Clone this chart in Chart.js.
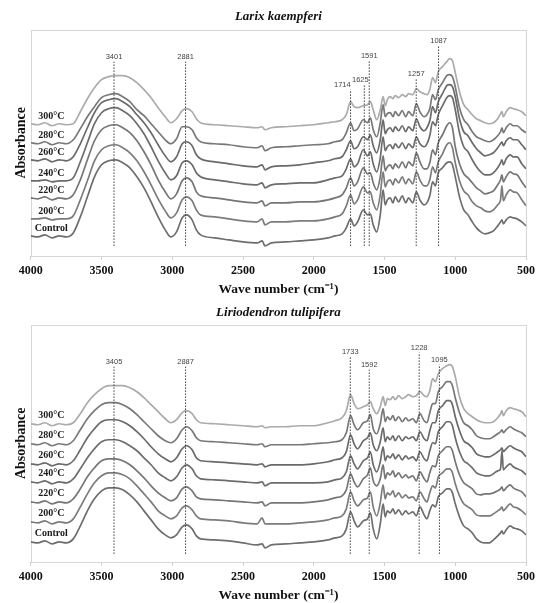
<!DOCTYPE html>
<html>
<head>
<meta charset="utf-8">
<script src="https://cdn.jsdelivr.net/npm/chart.js@4.4.1/dist/chart.umd.min.js"></script>
<style>
  body { margin: 0; background: #fff; width: 539px; height: 603px; overflow: hidden; }
  .panel { position: relative; width: 539px; }
</style>
</head>
<body>
<div class="panel" style="height:300px"><canvas id="larixChart"></canvas></div>
<div class="panel" style="height:303px"><canvas id="lirioChart"></canvas></div>
<script>
// Wave numbers (cm-1) shared by every spectrum
const wavenumbers = [
  4000, 3950, 3900, 3850, 3800, 3750, 3700, 3650, 3600, 3550,
  3500, 3450, 3400, 3350, 3300, 3250, 3200, 3150, 3100, 3050,
  3010, 2970, 2930, 2900, 2860, 2830, 2800, 2700, 2600, 2500,
  2400, 2365, 2345, 2300, 2200, 2100, 2000, 1900, 1850, 1800,
  1770, 1740, 1715, 1690, 1650, 1620, 1600, 1580, 1555, 1530,
  1510, 1495, 1480, 1460, 1440, 1425, 1400, 1375, 1350, 1330,
  1300, 1275, 1250, 1220, 1200, 1180, 1160, 1140, 1120, 1090,
  1060, 1040, 1020, 1000, 970, 940, 910, 880, 850, 820,
  790, 760, 730, 700, 680, 670, 660, 640, 612, 590,
  563, 530, 500
];

const tempLabels = ['Control', '200°C', '220°C', '240°C', '260°C', '280°C', '300°C'];

// Larix kaempferi spectra (absorbance, arbitrary units, stacked)
const larixControl = [
  20, 19, 21, 18, 20, 19, 23, 39, 59, 79,
  91, 95, 96, 93, 88, 79, 68, 54, 39, 26,
  19, 24, 38, 41, 36, 26, 21, 18, 16, 14,
  13, 15, 10, 13, 14, 15, 16, 18, 20, 22,
  28, 37, 30, 34, 46, 41, 42, 31, 24, 41,
  66, 51, 56, 58, 53, 59, 54, 60, 53, 58,
  53, 64, 56, 51, 53, 60, 74, 70, 83, 88,
  93, 94, 91, 79, 59, 46, 41, 34, 28, 24,
  22, 23, 25, 30, 34, 36, 32, 36, 39, 38,
  37, 34, 30
];
const larix200 = [
  37, 37, 38, 36, 37, 37, 40, 56, 75, 95,
  106, 110, 111, 108, 103, 95, 84, 71, 57, 45,
  38, 43, 56, 59, 55, 46, 41, 39, 37, 35,
  34, 37, 31, 34, 34, 35, 35, 37, 39, 42,
  50, 61, 52, 56, 69, 63, 64, 53, 46, 61,
  84, 69, 74, 76, 71, 77, 73, 79, 72, 77,
  72, 84, 76, 70, 70, 76, 89, 83, 94, 102,
  111, 113, 108, 93, 75, 65, 61, 54, 50, 48,
  45, 44, 46, 51, 56, 70, 55, 61, 66, 64,
  63, 56, 50
];
const larix220 = [
  58, 57, 59, 56, 58, 57, 61, 76, 96, 115,
  126, 130, 131, 128, 123, 115, 104, 91, 76, 64,
  57, 62, 75, 78, 74, 64, 60, 58, 56, 54,
  53, 55, 50, 53, 53, 54, 54, 56, 58, 61,
  68, 78, 70, 74, 88, 82, 83, 73, 66, 79,
  100, 85, 89, 91, 87, 92, 88, 94, 88, 94,
  90, 103, 94, 87, 87, 93, 106, 101, 113, 121,
  130, 133, 128, 109, 92, 82, 78, 73, 68, 65,
  62, 63, 65, 71, 76, 81, 74, 79, 84, 82,
  81, 74, 68
];
const larix240 = [
  75, 75, 76, 74, 75, 75, 78, 94, 113, 132,
  143, 147, 148, 145, 140, 132, 122, 109, 95, 83,
  76, 80, 93, 95, 91, 83, 79, 76, 74, 72,
  71, 73, 68, 71, 72, 73, 73, 76, 78, 80,
  87, 97, 89, 92, 106, 100, 104, 92, 84, 98,
  119, 105, 109, 111, 107, 112, 108, 113, 107, 112,
  108, 119, 112, 109, 112, 120, 134, 130, 141, 150,
  158, 160, 158, 146, 123, 109, 104, 96, 89, 84,
  81, 81, 83, 88, 93, 96, 91, 97, 101, 99,
  99, 92, 87
];
const larix260 = [
  96, 95, 97, 94, 96, 95, 99, 112, 128, 143,
  153, 156, 157, 154, 149, 141, 133, 123, 111, 100,
  94, 99, 112, 114, 110, 101, 97, 94, 92, 90,
  89, 91, 86, 89, 90, 91, 93, 95, 97, 99,
  106, 115, 107, 109, 119, 116, 121, 110, 103, 116,
  136, 122, 126, 128, 124, 129, 125, 130, 124, 129,
  125, 137, 129, 125, 128, 135, 149, 143, 154, 162,
  170, 171, 169, 159, 137, 124, 120, 113, 107, 103,
  100, 101, 103, 108, 112, 114, 110, 115, 118, 116,
  116, 111, 106
];
const larix280 = [
  113, 112, 114, 111, 113, 112, 116, 127, 139, 149,
  158, 161, 162, 159, 154, 146, 140, 132, 124, 116,
  112, 117, 129, 129, 126, 118, 114, 112, 111, 109,
  108, 110, 105, 108, 109, 110, 111, 112, 114, 116,
  123, 133, 125, 127, 136, 133, 138, 126, 119, 133,
  151, 139, 142, 143, 139, 144, 140, 145, 139, 144,
  140, 152, 144, 139, 141, 147, 161, 156, 166, 173,
  180, 181, 179, 169, 148, 136, 131, 124, 119, 117,
  115, 114, 116, 120, 124, 128, 123, 128, 132, 130,
  130, 126, 123
];
const larix300 = [
  132, 131, 133, 130, 132, 131, 132, 144, 157, 168,
  176, 179, 180, 180, 178, 173, 166, 158, 148, 139,
  133, 137, 145, 147, 144, 137, 133, 131, 130, 129,
  128, 129, 126, 128, 129, 130, 131, 133, 134, 136,
  141, 154, 149, 148, 150, 151, 154, 146, 136, 146,
  159, 150, 156, 159, 157, 160, 158, 161, 159, 162,
  161, 167, 164, 162, 161, 166, 178, 173, 184, 189,
  194, 197, 195, 183, 164, 151, 146, 141, 137, 135,
  133, 132, 133, 137, 142, 144, 139, 144, 148, 147,
  146, 144, 140
];

// Liriodendron tulipifera spectra
const lirioControl = [
  20, 19, 21, 18, 20, 19, 23, 36, 51, 63,
  71, 74, 74, 72, 67, 60, 51, 42, 33, 27,
  24, 27, 35, 37, 33, 26, 23, 22, 21, 19,
  17, 18, 14, 17, 18, 19, 20, 22, 24, 26,
  33, 50, 41, 35, 41, 43, 49, 33, 23, 38,
  58, 45, 51, 49, 53, 48, 52, 47, 51, 48,
  50, 46, 55, 47, 43, 51, 57, 55, 65, 69,
  73, 73, 69, 58, 45, 36, 33, 29, 23, 20,
  19, 19, 22, 26, 29, 31, 28, 32, 36, 34,
  33, 31, 27
];
const lirio200 = [
  40, 39, 41, 38, 40, 39, 43, 55, 68, 79,
  86, 89, 89, 87, 83, 76, 68, 60, 51, 46,
  43, 46, 54, 56, 52, 46, 43, 42, 41, 39,
  38, 44, 38, 38, 38, 39, 40, 42, 44, 46,
  53, 70, 61, 56, 62, 64, 70, 55, 46, 59,
  77, 63, 69, 67, 71, 65, 69, 64, 67, 64,
  65, 61, 70, 63, 60, 69, 76, 74, 85, 89,
  93, 93, 89, 78, 66, 58, 55, 52, 47, 46,
  46, 46, 48, 51, 53, 55, 51, 54, 58, 55,
  54, 51, 47
];
const lirio220 = [
  60, 59, 61, 58, 60, 59, 63, 73, 85, 94,
  101, 103, 103, 101, 97, 91, 84, 76, 69, 64,
  61, 64, 73, 75, 71, 65, 63, 62, 61, 60,
  59, 60, 56, 59, 59, 59, 60, 62, 64, 66,
  72, 88, 80, 75, 83, 87, 94, 81, 76, 83,
  97, 83, 89, 87, 91, 85, 89, 84, 87, 84,
  86, 81, 90, 83, 80, 89, 96, 95, 106, 111,
  115, 115, 111, 100, 87, 79, 76, 73, 68, 67,
  68, 68, 69, 71, 73, 75, 71, 74, 77, 74,
  72, 70, 65
];
const lirio240 = [
  80, 79, 81, 78, 80, 79, 83, 93, 104, 113,
  120, 122, 122, 120, 116, 111, 104, 97, 89, 84,
  81, 85, 94, 97, 93, 86, 83, 82, 81, 80,
  79, 80, 76, 79, 79, 79, 79, 80, 82, 84,
  90, 106, 98, 93, 101, 104, 110, 97, 90, 100,
  115, 101, 106, 104, 108, 103, 107, 102, 106, 103,
  105, 101, 110, 103, 101, 111, 119, 118, 130, 135,
  140, 140, 136, 124, 110, 101, 98, 94, 89, 87,
  86, 86, 88, 91, 93, 111, 92, 95, 98, 95,
  93, 91, 87
];
const lirio260 = [
  98, 97, 99, 96, 98, 97, 101, 112, 124, 133,
  140, 142, 142, 140, 136, 130, 123, 115, 108, 103,
  100, 104, 113, 116, 112, 104, 101, 100, 99, 98,
  97, 98, 95, 97, 97, 97, 98, 100, 102, 104,
  110, 127, 118, 113, 121, 124, 129, 117, 111, 120,
  134, 120, 125, 122, 126, 121, 126, 121, 125, 123,
  125, 121, 130, 123, 121, 131, 139, 139, 151, 156,
  161, 161, 157, 145, 131, 121, 118, 114, 108, 106,
  105, 105, 107, 110, 112, 114, 110, 113, 116, 114,
  112, 110, 105
];
const lirio280 = [
  118, 117, 119, 116, 118, 117, 121, 132, 143, 151,
  157, 159, 159, 157, 153, 147, 140, 133, 126, 121,
  119, 123, 132, 135, 131, 124, 121, 120, 119, 118,
  117, 118, 115, 117, 117, 117, 118, 119, 120, 122,
  129, 146, 137, 132, 139, 141, 147, 133, 128, 138,
  153, 140, 145, 142, 146, 141, 145, 140, 144, 141,
  143, 139, 148, 141, 139, 149, 158, 158, 170, 175,
  180, 180, 176, 164, 149, 139, 136, 132, 126, 124,
  123, 123, 125, 128, 130, 132, 129, 132, 135, 133,
  131, 129, 125
];
const lirio300 = [
  138, 137, 139, 136, 138, 137, 139, 148, 159, 167,
  173, 176, 176, 176, 174, 170, 164, 157, 150, 143,
  139, 142, 149, 151, 148, 142, 139, 138, 137, 136,
  135, 136, 134, 135, 135, 136, 136, 139, 141, 144,
  151, 167, 158, 153, 155, 157, 160, 153, 148, 155,
  165, 156, 163, 162, 165, 162, 166, 163, 165, 167,
  165, 166, 170, 166, 165, 171, 183, 180, 188, 193,
  196, 197, 195, 185, 165, 153, 148, 145, 142, 140,
  139, 139, 140, 144, 148, 151, 146, 151, 154, 153,
  152, 150, 145
];

// Marked bands: label, where the dotted line stands, its top and bottom
const larixPeakLabels = ['3401', '2881', '1714', '1625', '1591', '1257', '1087'];
const larixPeakAt = [3412, 2906, 1740, 1643, 1608, 1276, 1118];
const larixPeakTop = [194, 194, 166, 171, 195, 177, 210];
const larixLabelAt = [3412, 2906, 1798, 1671, 1608, 1276, 1118];
const larixPeakBase = 10;

const lirioPeakLabels = ['3405', '2887', '1733', '1592', '1228', '1095'];
const lirioPeakAt = [3412, 2906, 1742, 1608, 1255, 1112];
const lirioPeakTop = [195, 195, 205, 192, 209, 197];
const lirioLabelAt = [3412, 2906, 1742, 1608, 1255, 1112];
const lirioPeakBase = 8;

const curveColors = ['#6e6e6e', '#7c7c7c', '#767676', '#6c6c6c', '#6a6a6a', '#787878', '#ababab'];
const serif = '"Liberation Serif", "Times New Roman", serif';

const toPoints = (ys) => wavenumbers.map((w, i) => ({ x: w, y: ys[i] }));

/**
 * Light frame round the plot area
 */
const plotFrame = {
  id: 'plotFrame',
  beforeDatasetsDraw(chart) {
    const { ctx, chartArea: a } = chart;
    ctx.save();
    ctx.strokeStyle = '#d6d6d6';
    ctx.lineWidth = 1;
    ctx.strokeRect(Math.round(a.left) + 0.5, Math.round(a.top) + 0.5, Math.round(a.width), Math.round(a.height));
    ctx.restore();
  }
};

/**
 * Temperature names written just above the start of each curve
 */
const tempText = {
  id: 'tempText',
  afterDatasetsDraw(chart, args, opts) {
    const { ctx, scales: { x, y } } = chart;
    ctx.save();
    ctx.font = `bold 10px ${serif}`;
    ctx.fillStyle = '#1a1a1a';
    ctx.textAlign = 'center';
    ctx.textBaseline = 'middle';
    chart.data.datasets.forEach(ds => {
      if (!ds.tempLabel) return;
      ctx.fillText(ds.tempLabel, x.getPixelForValue(opts.anchor), y.getPixelForValue(ds.data[0].y) - opts.lift);
    });
    ctx.restore();
  }
};

/**
 * Wave number written on top of each dotted line
 */
const peakText = {
  id: 'peakText',
  afterDatasetsDraw(chart, args, opts) {
    const { ctx, scales: { x, y } } = chart;
    ctx.save();
    ctx.font = '7.5px "Liberation Sans", Arial, sans-serif';
    ctx.fillStyle = '#444';
    ctx.textAlign = 'center';
    ctx.textBaseline = 'bottom';
    opts.labels.forEach((txt, i) => {
      ctx.fillText(txt, x.getPixelForValue(opts.at[i]), y.getPixelForValue(opts.tops[i]) - 1);
    });
    ctx.restore();
  }
};

const buildChart = (canvasId, cfg) => {
  const ctx = document.getElementById(canvasId).getContext('2d');

  const curves = cfg.series.map((ys, i) => ({
    tempLabel: tempLabels[i],
    data: toPoints(ys),
    borderColor: curveColors[i],
    borderWidth: 1.7,
    pointRadius: 0,
    cubicInterpolationMode: 'monotone',
    tension: 0.4
  }));

  const marks = cfg.peakAt.map((w, i) => ({
    data: [{ x: w, y: cfg.peakBase }, { x: w, y: cfg.peakTop[i] }],
    borderColor: '#3c3c3c',
    borderWidth: 1,
    borderDash: [1.5, 1.5],
    pointRadius: 0,
    tension: 0
  }));

  return new Chart(ctx, {
    type: 'line',
    data: { datasets: [...marks, ...curves] },
    options: {
      responsive: true,
      maintainAspectRatio: false,
      animation: false,
      events: [],
      layout: { padding: { left: 8, right: 13, top: 0, bottom: cfg.padBottom } },
      plugins: {
        legend: { display: false },
        tooltip: { enabled: false },
        title: {
          display: true,
          text: cfg.title,
          fullSize: false,
          color: '#111',
          font: { family: serif, size: 13, weight: 'bold', style: 'italic', lineHeight: 1.2 },
          padding: cfg.titlePadding
        },
        tempText: { anchor: 3855, lift: cfg.labelLift },
        peakText: { labels: cfg.peakLabels, at: cfg.labelAt, tops: cfg.peakTop }
      },
      scales: {
        x: {
          type: 'linear',
          reverse: true,
          min: 500,
          max: 4000,
          border: { display: false },
          grid: { drawOnChartArea: false, tickLength: 4, color: '#cfcfcf' },
          ticks: {
            stepSize: 500,
            padding: 4,
            maxRotation: 0,
            color: '#111',
            font: { family: serif, size: 12, weight: 'bold' },
            callback: (v) => String(v)
          },
          title: {
            display: true,
            text: 'Wave number (cm⁻¹)',
            color: '#111',
            font: { family: serif, size: 13.5, weight: 'bold', lineHeight: 1.05 },
            padding: { top: cfg.axisTitleGap, bottom: 0 }
          }
        },
        y: {
          min: 0,
          max: cfg.yMax,
          border: { display: false },
          grid: { display: false, drawTicks: false },
          ticks: { display: false },
          title: {
            display: true,
            text: 'Absorbance',
            color: '#111',
            font: { family: serif, size: 14, weight: 'bold' },
            padding: { top: 5, bottom: 1 }
          }
        }
      }
    },
    plugins: [plotFrame, tempText, peakText]
  });
};

buildChart('larixChart', {
  title: 'Larix kaempferi',
  series: [larixControl, larix200, larix220, larix240, larix260, larix280, larix300],
  peakLabels: larixPeakLabels,
  peakAt: larixPeakAt,
  peakTop: larixPeakTop,
  labelAt: larixLabelAt,
  peakBase: larixPeakBase,
  yMax: 226,
  padBottom: 3,
  axisTitleGap: 0.5,
  labelLift: 7,
  titlePadding: { top: 9, bottom: 5 }
});

buildChart('lirioChart', {
  title: 'Liriodendron tulipifera',
  series: [lirioControl, lirio200, lirio220, lirio240, lirio260, lirio280, lirio300],
  peakLabels: lirioPeakLabels,
  peakAt: lirioPeakAt,
  peakTop: lirioPeakTop,
  labelAt: lirioLabelAt,
  peakBase: lirioPeakBase,
  yMax: 237,
  padBottom: 0,
  axisTitleGap: 0.5,
  labelLift: 8,
  titlePadding: { top: 5, bottom: 4 }
});
</script>
</body>
</html>
